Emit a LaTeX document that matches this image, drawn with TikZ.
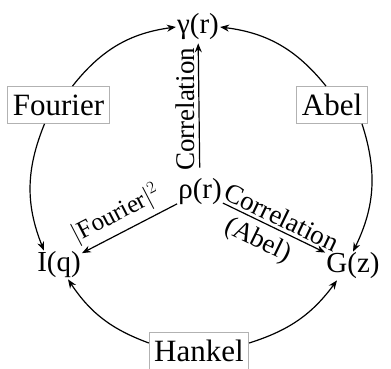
\documentclass[tikz,border=0pt]{standalone}
\usepackage{fontspec}
\setmainfont{Liberation Serif}
\usetikzlibrary{arrows.meta}
\begin{document}
\begin{tikzpicture}[x=1pt,y=1pt,
 lab/.style={font=\fontsize{29}{30}\selectfont, inner sep=1pt},
 boxl/.style={draw=gray!60, line width=0.8pt, font=\fontsize{31}{32}\selectfont, inner xsep=5pt, minimum height=37pt},
 elab/.style={font=\fontsize{27}{28}\selectfont, inner sep=1pt},
 flab/.style={font=\fontsize{25}{26}\selectfont, inner sep=1pt},
 arr/.style={-{Stealth[length=9pt,width=7pt]}, line width=1.2pt}]
\useasboundingbox (0,0) rectangle (391,369);
\node[lab] (gamma) at (198,342) {γ(r)};
\node[lab] (rho) at (200,177) {ρ(r)};
\node[lab] (iq) at (59,104) {I(q)};
\node[lab] (gz) at (353,103) {G(z)};
\node[boxl] (fourier) at (58.5,264) {Fourier};
\node[boxl] (abel) at (332,264) {Abel};
\node[boxl] (hankel) at (199,18) {Hankel};
% circle arcs
\draw[arr] ([xshift=14pt]fourier.north) to[bend left=22] (gamma.west);
\draw[arr] ([xshift=-14pt]fourier.south) to[bend right=22] ([xshift=-15pt]iq.north);
\draw[arr] ([xshift=-6pt]abel.north) to[bend right=22] (gamma.east);
\draw[arr] ([xshift=30pt]abel.south) to[bend left=22] (gz.north);
\draw[arr] ([yshift=8pt]hankel.west) to[bend left=18] ([xshift=9pt]iq.south);
\draw[arr] ([yshift=8pt]hankel.east) to[bend right=18] ([xshift=-16pt]gz.south);
% straight arrows
\draw[arr, shorten <=10pt, shorten >=2pt] (rho) -- node[elab, midway, rotate=90, anchor=south, yshift=3pt] {Correlation} (gamma);
\draw[arr] (rho) -- node[flab, sloped, above=4pt, pos=0.55] {$|$Fourier$|^2$} (iq);
\draw[arr] (rho) -- node[elab, sloped, above=2pt, pos=0.52] {Correlation} node[elab, sloped, below=5pt, pos=0.42] {(Abel)} (gz);
\end{tikzpicture}
\end{document}
